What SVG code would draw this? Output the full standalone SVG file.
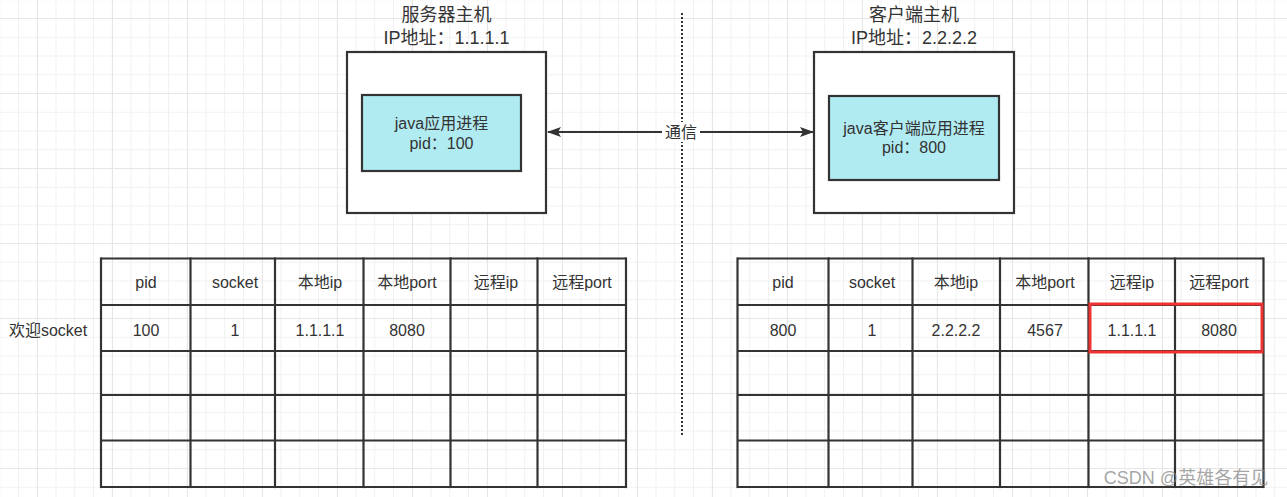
<svg xmlns="http://www.w3.org/2000/svg" width="1287" height="497" viewBox="0 0 1287 497">
<style>
text{font-family:"Liberation Sans","Noto Sans CJK SC",sans-serif;fill:#333;text-anchor:middle}
.t{font-size:18px}
.c{font-size:16px}
.box{fill:#fff;stroke:#333;stroke-width:2.2}
.proc{fill:#b1ebf2;stroke:#333;stroke-width:2.2}
.grid line{stroke:#333;stroke-width:2.2}
</style>
<defs>
<pattern id="minor" patternUnits="userSpaceOnUse" x="18" y="18" width="18.75" height="18.75">
<rect x="0" y="0" width="1" height="18.75" fill="#f1f1f1"/>
<rect x="0" y="0" width="18.75" height="1" fill="#f1f1f1"/>
</pattern>
<pattern id="major" patternUnits="userSpaceOnUse" x="37" y="18" width="75" height="75">
<rect x="0" y="0" width="1" height="75" fill="#e6e6e6"/>
<rect x="0" y="0" width="75" height="1" fill="#e6e6e6"/>
</pattern>
<marker id="ah" viewBox="0 0 14 10" refX="13" refY="5" markerWidth="14" markerHeight="10" markerUnits="userSpaceOnUse" orient="auto-start-reverse">
<path d="M0,0 L14,5 L0,10 L3,5 Z" fill="#333"/>
</marker>
</defs>
<rect width="1287" height="497" fill="#fff"/>
<rect width="1287" height="497" fill="url(#minor)"/>
<rect width="1287" height="497" fill="url(#major)"/>

<g id="divider">
<line x1="682" y1="13" x2="682" y2="437" stroke="#333" stroke-width="2" stroke-dasharray="2 2"/>
</g>

<g id="server">
<text class="t" x="446.5" y="21">服务器主机</text>
<text class="t" x="446.5" y="44">IP地址：1.1.1.1</text>
<rect class="box" x="347" y="52" width="199" height="161"/>
<g id="server-proc">
<rect class="proc" x="362" y="95" width="159" height="76"/>
<text class="c" x="441.5" y="128.5">java应用进程</text>
<text class="c" x="441.5" y="148.5">pid：100</text>
</g>
</g>

<g id="client">
<text class="t" x="914" y="21">客户端主机</text>
<text class="t" x="914" y="44">IP地址：2.2.2.2</text>
<rect class="box" x="814" y="52" width="200" height="161"/>
<g id="client-proc">
<rect class="proc" x="829" y="96" width="170" height="84"/>
<text class="c" x="914" y="133.5">java客户端应用进程</text>
<text class="c" x="914" y="152.5">pid：800</text>
</g>
</g>

<g id="connectors">
<line x1="548" y1="132" x2="813" y2="132" stroke="#333" stroke-width="2" marker-start="url(#ah)" marker-end="url(#ah)"/>
<rect x="662" y="122" width="38" height="20" fill="#fff"/>
<text class="c" x="681" y="137.5">通信</text>
</g>

<g id="left-table">
<text class="c" x="48" y="335.5">欢迎socket</text>
<g class="grid">
<line x1="101" y1="258.5" x2="626" y2="258.5"/>
<line x1="101" y1="305" x2="626" y2="305"/>
<line x1="101" y1="351" x2="626" y2="351"/>
<line x1="101" y1="395" x2="626" y2="395"/>
<line x1="101" y1="440.5" x2="626" y2="440.5"/>
<line x1="101" y1="487" x2="626" y2="487"/>
<line x1="101" y1="257.4" x2="101" y2="488.1"/>
<line x1="190.5" y1="257.4" x2="190.5" y2="488.1"/>
<line x1="275" y1="257.4" x2="275" y2="488.1"/>
<line x1="363.5" y1="257.4" x2="363.5" y2="488.1"/>
<line x1="450.5" y1="257.4" x2="450.5" y2="488.1"/>
<line x1="537.5" y1="257.4" x2="537.5" y2="488.1"/>
<line x1="626" y1="257.4" x2="626" y2="488.1"/>
</g>
<text class="c" x="146" y="287.5">pid</text>
<text class="c" x="235" y="287.5">socket</text>
<text class="c" x="320" y="287.5">本地ip</text>
<text class="c" x="407" y="287.5">本地port</text>
<text class="c" x="496" y="287.5">远程ip</text>
<text class="c" x="582" y="287.5">远程port</text>
<text class="c" x="146" y="335.5">100</text>
<text class="c" x="235" y="335.5">1</text>
<text class="c" x="320" y="335.5">1.1.1.1</text>
<text class="c" x="407" y="335.5">8080</text>
</g>

<g id="right-table">
<g class="grid">
<line x1="737.5" y1="258.5" x2="1263.5" y2="258.5"/>
<line x1="737.5" y1="305" x2="1263.5" y2="305"/>
<line x1="737.5" y1="351" x2="1263.5" y2="351"/>
<line x1="737.5" y1="395" x2="1263.5" y2="395"/>
<line x1="737.5" y1="440.5" x2="1263.5" y2="440.5"/>
<line x1="737.5" y1="487" x2="1263.5" y2="487"/>
<line x1="737.5" y1="257.4" x2="737.5" y2="488.1"/>
<line x1="828.5" y1="257.4" x2="828.5" y2="488.1"/>
<line x1="912.5" y1="257.4" x2="912.5" y2="488.1"/>
<line x1="1000" y1="257.4" x2="1000" y2="488.1"/>
<line x1="1088.5" y1="257.4" x2="1088.5" y2="488.1"/>
<line x1="1175" y1="257.4" x2="1175" y2="488.1"/>
<line x1="1263.5" y1="257.4" x2="1263.5" y2="488.1"/>
</g>
<text class="c" x="783" y="287.5">pid</text>
<text class="c" x="872" y="287.5">socket</text>
<text class="c" x="956" y="287.5">本地ip</text>
<text class="c" x="1045" y="287.5">本地port</text>
<text class="c" x="1132" y="287.5">远程ip</text>
<text class="c" x="1219" y="287.5">远程port</text>
<text class="c" x="783" y="335.5">800</text>
<text class="c" x="872" y="335.5">1</text>
<text class="c" x="956" y="335.5">2.2.2.2</text>
<text class="c" x="1045" y="335.5">4567</text>
<text class="c" x="1132" y="335.5">1.1.1.1</text>
<text class="c" x="1219" y="335.5">8080</text>
<rect id="highlight" x="1090" y="304" width="172" height="48" fill="none" stroke="#f03232" stroke-width="3"/>
</g>

<text x="1186" y="484" style="font-size:18px;fill:#888;fill-opacity:0.75">CSDN @英雄各有见</text>
</svg>
